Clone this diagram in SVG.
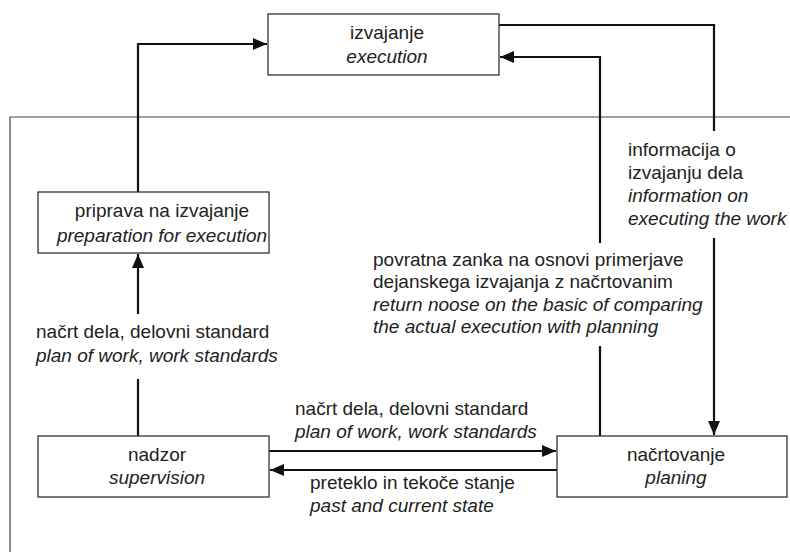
<svg xmlns="http://www.w3.org/2000/svg" width="790" height="552" viewBox="0 0 790 552">
<defs>
<marker id="ah" viewBox="0 0 14 12" refX="14" refY="6" markerWidth="14" markerHeight="12" markerUnits="userSpaceOnUse" orient="auto">
<path d="M0,0 L14,6 L0,12 Z" fill="#111"/>
</marker>
</defs>
<style>
text{font-family:"Liberation Sans",Arial,sans-serif;font-size:19px;fill:#222}
.it{font-style:italic}
.m{text-anchor:middle}
.box{fill:#fff;stroke:#333;stroke-width:1.3}
.frame{fill:none;stroke:#444;stroke-width:1.2}
.c{fill:none;stroke:#111;stroke-width:2.2}
.a{marker-end:url(#ah)}
</style>
<rect width="790" height="552" fill="#fff"/>
<g id="frame">
<path class="frame" d="M790,117 H10 V552"/>
</g>
<g id="connectors">
<path class="c a" d="M138,192 V44 H267"/>
<path class="c a" d="M600,243 V57 H500"/>
<path class="c" d="M600,346 V436"/>
<path class="c" d="M499,25 H714 V131"/>
<path class="c a" d="M714,238 V435"/>
<path class="c a" d="M138,314 V254"/>
<path class="c" d="M138,436 V379"/>
<path class="c a" d="M269,451 H556"/>
<path class="c a" d="M557,470 H270"/>
</g>
<g id="izvajanje">
<rect class="box" x="268" y="14" width="231" height="61"/>
<text class="m" x="387" y="39">izvajanje</text>
<text class="m it" x="387" y="63">execution</text>
</g>
<g id="priprava">
<rect class="box" x="38" y="192" width="231" height="61"/>
<text class="m" x="162" y="217">priprava na izvajanje</text>
<text class="m it" x="162" y="242">preparation for execution</text>
</g>
<g id="nadzor">
<rect class="box" x="38" y="436" width="231" height="61"/>
<text class="m" x="157" y="461">nadzor</text>
<text class="m it" x="157" y="484">supervision</text>
</g>
<g id="nacrtovanje">
<rect class="box" x="557" y="436" width="230" height="61"/>
<text class="m" x="676" y="461">načrtovanje</text>
<text class="m it" x="676" y="484">planing</text>
</g>
<g id="labels">
<text x="36" y="338">načrt dela, delovni standard</text>
<text class="it" x="36" y="362">plan of work, work standards</text>
<text x="295" y="415">načrt dela, delovni standard</text>
<text class="it" x="295" y="438">plan of work, work standards</text>
<text x="310" y="489">preteklo in tekoče stanje</text>
<text class="it" x="310" y="512">past and current state</text>
<text x="628" y="156">informacija o</text>
<text x="628" y="179">izvajanju dela</text>
<text class="it" x="628" y="202">information on</text>
<text class="it" x="628" y="225">executing the work</text>
<text x="373" y="266">povratna zanka na osnovi primerjave</text>
<text x="373" y="288">dejanskega izvajanja z načrtovanim</text>
<text class="it" x="373" y="311">return noose on the basic of comparing</text>
<text class="it" x="373" y="333">the actual execution with planning</text>
</g>
</svg>
